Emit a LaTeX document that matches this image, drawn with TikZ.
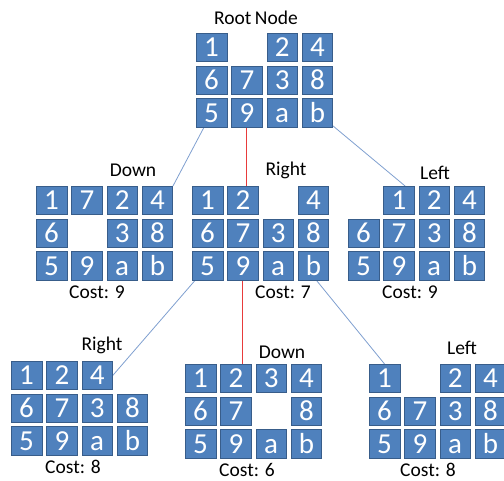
\documentclass[tikz,border=0pt]{standalone}
\usepackage{fontspec}
\setmainfont{Carlito}
\usetikzlibrary{calc}
\definecolor{tilefill}{HTML}{4F81BD}
\definecolor{tileedge}{HTML}{385D8A}
\definecolor{linkblue}{HTML}{7F9FCF}
\definecolor{linkred}{HTML}{E83B3B}
\pgfdeclarelayer{bg}
\pgfsetlayers{bg,main}

% One 3x4 sliding-puzzle state: name, x and y of the top-left tile, 12 entries ('-' = hole)
\newcommand{\puzzle}[4]{%
  \foreach \t [count=\i from 0] in {#4} {%
    \pgfmathtruncatemacro{\rr}{int(\i/4)}%
    \pgfmathtruncatemacro{\cc}{mod(\i,4)}%
    \if-\t\relax\else
      \node[tile] (#1-\rr-\cc) at ({#2+\cc*35.3},{#3+\rr*32.7}) {\t};
    \fi
  }%
}

\begin{document}
\begin{tikzpicture}[x=1pt,y=-1pt,
  tile/.style={draw=tileedge, fill=tilefill, line width=0.6pt,
    minimum width=30.5pt, minimum height=28.5pt, inner sep=0pt,
    anchor=north west, text=white, text height=18.3pt, text depth=0pt,
    font=\fontsize{29}{29}\selectfont},
  caption/.style={font=\fontsize{19.5}{20}\selectfont, text=black, inner sep=0pt},
  blueline/.style={draw=linkblue, line width=0.8pt},
  redline/.style={draw=linkred, line width=0.9pt}]
\useasboundingbox (0,0) rectangle (504,481);

% root
\node[caption] (lroot) at (256,18) {Root\kern-1pt\ Node};
\puzzle{r}{196}{33}{1,-,2,4,6,7,3,8,5,9,a,b}

% first level
\node[caption] (ld1) at (133,170) {Down};
\puzzle{d}{36}{186}{1,7,2,4,6,-,3,8,5,9,a,b}
\node[caption] (cd1) at (97,292) {Cost: 9};

\node[caption] (lr1) at (286,170) {Right};
\puzzle{m}{192}{186}{1,2,-,4,6,7,3,8,5,9,a,b}
\node[caption] (cr1) at (283,292) {Cost: 7};

\node[caption] (ll1) at (435,173) {Left};
\puzzle{l}{348}{186}{-,1,2,4,6,7,3,8,5,9,a,b}
\node[caption] (cl1) at (410,292) {Cost: 9};

% second level
\node[caption] (lr2) at (102,345) {Right};
\puzzle{p}{11}{361}{1,2,4,-,6,7,3,8,5,9,a,b}
\node[caption] (cr2) at (73,467) {Cost: 8};

\node[caption] (ld2) at (282,352) {Down};
\puzzle{q}{185}{364}{1,2,3,4,6,7,-,8,5,9,a,b}
\node[caption] (cd2) at (247,470) {Cost: 6};

\node[caption] (ll2) at (462,348) {Left};
\puzzle{s}{369}{364}{1,-,2,4,6,7,3,8,5,9,a,b}
\node[caption] (cl2) at (428,470) {Cost: 8};

% connectors, drawn behind the tiles
\begin{pgfonlayer}{bg}
  \draw[blueline] (r-2-0.center) -- (d-0-3.north east);
  \draw[redline] (r-2-1.center) -- (r-2-1.center |- m-0-1.north);
  \draw[blueline] (r-2-3.center) -- ($(l-0-1.north west)!0.7!(l-0-1.north east)$);
  \draw[blueline] (m-2-0.center) -- (p-0-2.east);
  \draw[redline] (m-2-1.center) -- (m-2-1.center |- q-0-1.north);
  \draw[blueline] ($(m-2-3.south west)!0.6!(m-2-3.south east)$) -- (s-0-0.north);
\end{pgfonlayer}
\end{tikzpicture}
\end{document}
